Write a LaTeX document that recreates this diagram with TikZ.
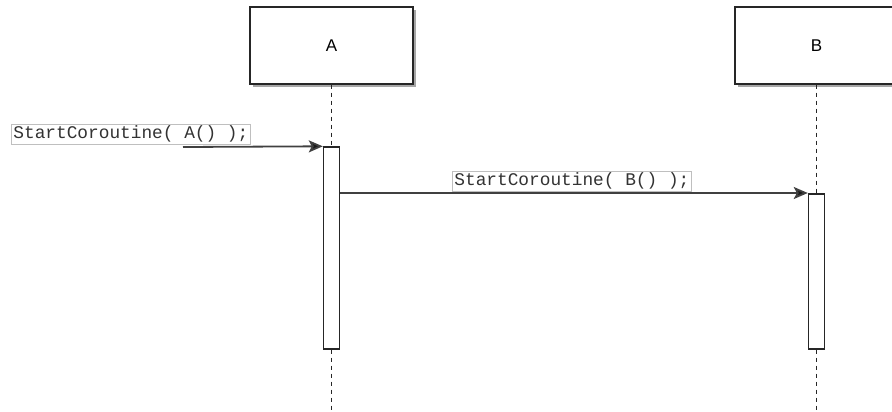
\documentclass[tikz,border=0pt]{standalone}
\usepackage{fontspec}
\setmainfont{Liberation Sans}
\newfontfamily\codefont{Liberation Mono}
\usetikzlibrary{arrows.meta,shadows}
\begin{document}
\begin{tikzpicture}[x=1pt,y=-1pt,
  participant/.style={draw=black!85, line width=1.4pt, fill=white, minimum width=163pt, minimum height=77pt, inner sep=0pt,
    drop shadow={shadow xshift=3pt, shadow yshift=-3pt, fill=black!35, opacity=1}, font=\fontsize{17}{20}\selectfont},
  activation/.style={draw=black!85, line width=1.4pt, fill=white, minimum width=16pt, inner sep=0pt},
  lifeline/.style={draw=black!85, line width=1.3pt, dash pattern=on 4pt off 4pt},
  message/.style={draw=black!75, line width=1.8pt, -{Stealth[length=14pt,width=12pt,inset=3pt,fill=black!90]}},
  codelabel/.style={draw=black!25, line width=0.8pt, fill=white, inner xsep=2pt, inner ysep=0pt, minimum height=20pt, anchor=west,
    text=black!80, font=\codefont\fontsize{17.8}{20}\selectfont}]
  \useasboundingbox (0,0) rectangle (892,412);
  \begin{scope}
  \clip (0,0) rectangle (892,412);
  % participants
  \node[participant] (A) at (331.5,45.5) {A};
  \node[participant] (B) at (816.5,45.5) {B};
  % activation bars
  \node[activation, minimum height=202pt] (actA) at (331.5,248) {};
  \node[activation, minimum height=155pt] (actB) at (816.5,271.5) {};
  % lifeline ends
  \coordinate (endA) at (331.5,412);
  \coordinate (endB) at (816.5,412);
  \draw[lifeline] (A.south) -- (actA.north);
  \draw[lifeline] (actA.south) -- (endA);
  \draw[lifeline] (B.south) -- (actB.north);
  \draw[lifeline] (actB.south) -- (endB);
  % messages
  \coordinate (start) at (183,147);
  \draw[message] (start) -- (actA.north west);
  \draw[message] (actA.east |- 0,193) -- (actB.west |- 0,193);
  % message labels
  \node[codelabel] (lab1) at (11,134) {StartCoroutine( A() );};
  \node[codelabel] (lab2) at (452,181) {StartCoroutine( B() );};
  \end{scope}
\end{tikzpicture}
\end{document}
